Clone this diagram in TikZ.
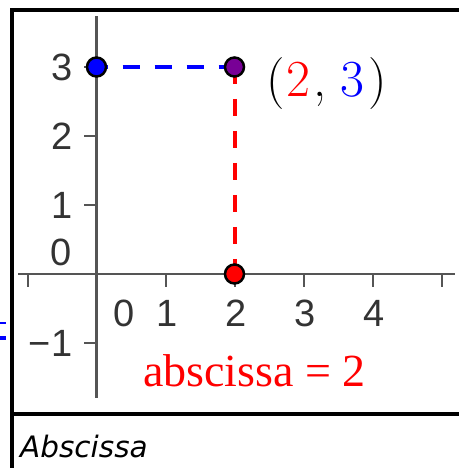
\documentclass[tikz,border=0pt]{standalone}
\usepackage{fontspec}
\usepackage{xcolor}
\usepackage{tikz}
\usetikzlibrary{positioning}

\newfontfamily\ticksans{Liberation Sans}
\newfontfamily\labelserif{Liberation Serif}
\newfontfamily\captionsans{DejaVu Sans}

\definecolor{axisgray}{RGB}{85,85,85}
\definecolor{labelgray}{RGB}{51,51,51}
\definecolor{ptpurple}{RGB}{120,0,150}

\begin{document}
\begin{tikzpicture}[
  x=1pt, y=1pt,
  axisline/.style={draw=axisgray, line width=2.5pt},
  tickmark/.style={draw=axisgray, line width=2pt},
  ticklabel/.style={inner sep=0pt, text=labelgray, font=\ticksans\fontsize{38}{44}\selectfont},
  guide/.style={line width=4pt, dash pattern=on 17pt off 15pt},
  dot/.style={circle, draw=black, line width=2.5pt, minimum size=19pt, inner sep=0pt},
  frame/.style={draw=black, line width=4pt}
]
\useasboundingbox (0,0) rectangle (459,468);

% frame and caption
\draw[frame] (12,0) -- (12,458) -- (459,458);
\draw[frame] (12,54) -- (459,54);
\node[anchor=base west, inner sep=0pt, font=\captionsans\itshape\fontsize{29.5}{34}\selectfont] (cap) at (20,10) {Abscissa};

% bits of blue at the left edge
\draw[blue, line width=2pt] (0,145) -- (6,145);
\draw[blue, line width=4pt] (0,130) -- (6,130);

\begin{scope}[shift={(96.5pt,194pt)}, x=69pt, y=69pt]
  % axes
  \coordinate (xmin) at (-78.5pt,0);
  \coordinate (xmax) at (358.5pt,0);
  \coordinate (ymin) at (0,-124pt);
  \coordinate (ymax) at (0,258pt);
  \draw[axisline] (xmin) -- (xmax);
  \draw[axisline] (ymin) -- (ymax);

  \foreach \x in {-1,1,2,3,4,5}
    \draw[tickmark] (\x,0) -- ++(0,-13pt);
  \foreach \y in {-1,1,2,3}
    \draw[tickmark] (0,\y) -- ++(-13pt,0);

  % tick labels
  \foreach \x in {1,2,3,4}
    \node[ticklabel] at ([xshift=2pt, yshift=-39pt]\x,0) {\x};
  \node[ticklabel] at ([xshift=27.5pt, yshift=-39pt]0,0) {0};
  \foreach \y in {1,2,3}
    \node[ticklabel, left=24pt] at (0,\y) {\y};
  \node[ticklabel, left=24pt] at (0,-1) {\char"2212 1};
  \node[ticklabel, anchor=east] at ([xshift=-24.5pt, yshift=22pt]0,0) {0};

  % the point and its projections
  \coordinate (pb) at (0,3);
  \coordinate (pp) at (2,3);
  \coordinate (pr) at (2,0);
  \draw[guide, blue, dash phase=6pt] (pb) -- (pp);
  \draw[guide, red] (pp) -- (pr);
  \node[dot, fill=blue] (nb) at (pb) {};
  \node[dot, fill=ptpurple] (np) at (pp) {};
  \node[dot, fill=red] (nr) at (pr) {};

  \node[anchor=base west, inner sep=0pt, font=\fontsize{52}{60}\selectfont] (coords)
    at ([xshift=31.5pt, yshift=-30pt]pp) {(\kern2pt\textcolor{red}{2}\kern3pt,\hspace{14pt}\textcolor{blue}{3}\kern4pt)};
  \node[anchor=base west, inner sep=0pt, text=red, font=\labelserif\fontsize{46}{54}\selectfont] (absc)
    at (46.5pt,-113pt) {abscissa = 2};
\end{scope}
\end{tikzpicture}
\end{document}
